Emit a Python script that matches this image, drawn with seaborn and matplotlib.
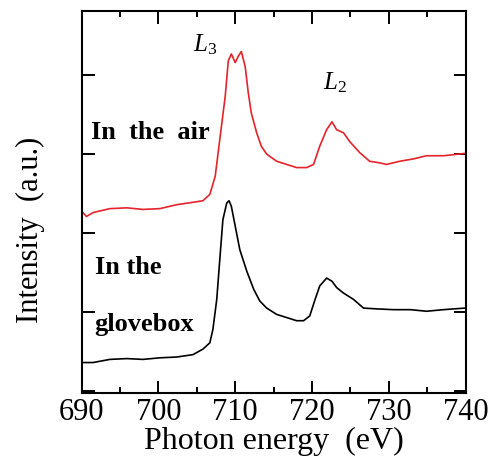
import numpy as np
import pandas as pd
import matplotlib
matplotlib.use('Agg')
import matplotlib.pyplot as plt
from matplotlib.ticker import MultipleLocator
import seaborn as sns

# spectrum (offset already included)
air_energy = [690, 690.65, 691.5, 693.7, 695.9, 698, 700.2, 702.4, 704.5, 705.8, 706.7,
              707.4, 708, 708.7, 709.1, 709.5, 710, 710.4, 710.8, 711.3, 711.7, 712.1,
              712.8, 713.4, 714.1, 715.4, 716.7, 718, 719.3, 720.2, 721, 721.9, 722.6,
              723.2, 724.1, 724.9, 726.2, 727.5, 728.8, 729.7, 731.4, 733.2, 734.9,
              737.1, 739.9]
air_intensity = [2.28, 2.21, 2.26, 2.31, 2.32, 2.30, 2.31, 2.36, 2.39, 2.41, 2.49,
                 2.72, 3.19, 3.73, 4.18, 4.27, 4.16, 4.24, 4.30, 4.11, 3.78, 3.52,
                 3.27, 3.10, 3.00, 2.91, 2.87, 2.83, 2.83, 2.87, 3.10, 3.31, 3.41,
                 3.31, 3.27, 3.16, 3.02, 2.91, 2.89, 2.87, 2.91, 2.94, 2.98,
                 2.98, 3.01]

box_energy = [690, 691.5, 693.7, 695.9, 698, 700.2, 702.4, 704.5, 705.8, 706.7, 707.1,
              707.6, 708, 708.4, 708.9, 709.2, 709.5, 710, 710.6, 711.5, 712.4, 713.2,
              714.1, 715.4, 716.7, 718, 718.9, 719.7, 720.4, 721, 721.9, 722.6, 723.2,
              724.1, 725.4, 726.7, 728.4, 730.6, 732.8, 734.9, 737.1, 739.9]
box_intensity = [0.36, 0.36, 0.40, 0.41, 0.40, 0.42, 0.43, 0.46, 0.53, 0.61, 0.78,
                 1.16, 1.67, 2.17, 2.38, 2.41, 2.34, 2.09, 1.79, 1.52, 1.29, 1.14,
                 1.05, 0.97, 0.93, 0.89, 0.89, 0.95, 1.16, 1.33, 1.43, 1.39, 1.31,
                 1.24, 1.16, 1.05, 1.04, 1.03, 1.03, 1.01, 1.03, 1.05]

sns.set_style('ticks')
plt.rcParams['font.family'] = ['Liberation Serif', 'DejaVu Serif']
plt.rcParams['mathtext.fontset'] = 'custom'
plt.rcParams['mathtext.rm'] = 'Liberation Serif'
plt.rcParams['mathtext.it'] = 'Liberation Serif:italic'
plt.rcParams['text.color'] = 'black'
plt.rcParams['axes.labelcolor'] = 'black'
plt.rcParams['axes.edgecolor'] = 'black'
plt.rcParams['xtick.color'] = 'black'
plt.rcParams['ytick.color'] = 'black'

fig = plt.figure(figsize=(4.91, 4.64), dpi=100)
ax = fig.add_axes([0.166, 0.151, 0.7825, 0.8225])

air = pd.DataFrame({'energy': air_energy, 'intensity': air_intensity})
box = pd.DataFrame({'energy': box_energy, 'intensity': box_intensity})
sns.lineplot(data=air, x='energy', y='intensity', color='#e4232b', lw=1.2, ax=ax)
sns.lineplot(data=box, x='energy', y='intensity', color='black', lw=1.2, ax=ax)

ax.set_xlim(690, 740)
ax.set_ylim(-0.025, 4.81)
ax.xaxis.set_major_locator(MultipleLocator(10))
ax.xaxis.set_minor_locator(MultipleLocator(5))
ax.yaxis.set_major_locator(MultipleLocator(1))
ax.set_yticklabels([])
ax.tick_params(which='major', direction='in', length=9, width=1.4,
               top=True, right=True, labelsize=22, pad=3)
ax.tick_params(which='minor', direction='in', length=4.5, width=1.4,
               top=True, right=True)
for s in ax.spines.values():
    s.set_linewidth(1.5)

ax.set_xlabel('Photon energy  (eV)', fontsize=23, labelpad=0)
ax.set_ylabel('')
fig.text(30 / 491, 1 - 230 / 464, 'Intensity  (a.u.)', fontsize=22,
         rotation=90, ha='center', va='center')

ax.text(704.5, 4.4, r'$\mathit{L}_3$', fontsize=18, va='center', ha='left')
ax.text(721.4, 3.92, r'$\mathit{L}_2$', fontsize=18, va='center', ha='left')
ax.text(691.2, 3.29, 'In  the  air', fontsize=19, fontweight='bold', va='center')
ax.text(691.7, 1.58, 'In the', fontsize=19, fontweight='bold', va='center')
ax.text(691.7, 0.86, 'glovebox', fontsize=19, fontweight='bold', va='center')

fig.savefig('out.png', dpi=100)
